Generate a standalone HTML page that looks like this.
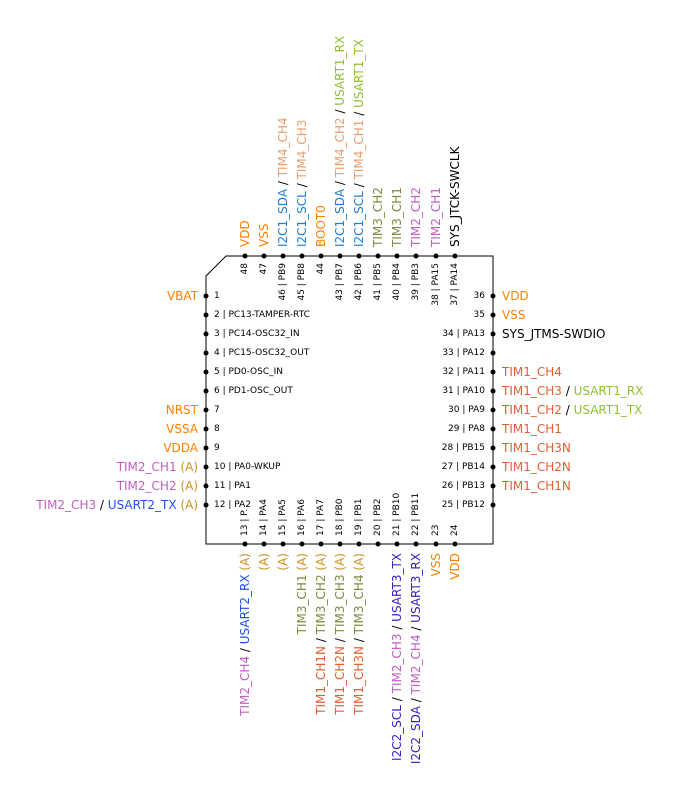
<!DOCTYPE html>
<html><head><meta charset="utf-8"><style>
html,body{margin:0;padding:0;background:#fff;}
svg{display:block;font-family:"DejaVu Sans","Liberation Sans",sans-serif;}
.o{font-size:12px;}
.i{font-size:9px;fill:#000;}
.O{fill:#ff8000}.T4{fill:#e8a070}.I1{fill:#2080d0}.U1{fill:#90c030}.T3{fill:#808a40}.T2{fill:#c060c0}.T1{fill:#e06030}.A{fill:#d09020}.U2{fill:#2050e0}.I2{fill:#4020c0}.K{fill:#000}
</style></head><body>
<svg width="700" height="800" viewBox="0 0 700 800" xmlns="http://www.w3.org/2000/svg">
<path d="M226 256 H493 V544 H206 V276 Z" fill="none" stroke="#000" stroke-width="1"/>
<g fill="#000">
<circle cx="206" cy="296" r="2.5"/><circle cx="206" cy="315" r="2.5"/><circle cx="206" cy="334" r="2.5"/><circle cx="206" cy="353" r="2.5"/><circle cx="206" cy="372" r="2.5"/><circle cx="206" cy="391" r="2.5"/><circle cx="206" cy="410" r="2.5"/><circle cx="206" cy="429" r="2.5"/><circle cx="206" cy="448" r="2.5"/><circle cx="206" cy="467" r="2.5"/><circle cx="206" cy="486" r="2.5"/><circle cx="206" cy="505" r="2.5"/>
<circle cx="493" cy="296" r="2.5"/><circle cx="493" cy="315" r="2.5"/><circle cx="493" cy="334" r="2.5"/><circle cx="493" cy="353" r="2.5"/><circle cx="493" cy="372" r="2.5"/><circle cx="493" cy="391" r="2.5"/><circle cx="493" cy="410" r="2.5"/><circle cx="493" cy="429" r="2.5"/><circle cx="493" cy="448" r="2.5"/><circle cx="493" cy="467" r="2.5"/><circle cx="493" cy="486" r="2.5"/><circle cx="493" cy="505" r="2.5"/>
<circle cx="245" cy="256" r="2.5"/><circle cx="264" cy="256" r="2.5"/><circle cx="283" cy="256" r="2.5"/><circle cx="302" cy="256" r="2.5"/><circle cx="321" cy="256" r="2.5"/><circle cx="340" cy="256" r="2.5"/><circle cx="359" cy="256" r="2.5"/><circle cx="378" cy="256" r="2.5"/><circle cx="397" cy="256" r="2.5"/><circle cx="416" cy="256" r="2.5"/><circle cx="436" cy="256" r="2.5"/><circle cx="455" cy="256" r="2.5"/>
<circle cx="245" cy="544" r="2.5"/><circle cx="264" cy="544" r="2.5"/><circle cx="283" cy="544" r="2.5"/><circle cx="302" cy="544" r="2.5"/><circle cx="321" cy="544" r="2.5"/><circle cx="340" cy="544" r="2.5"/><circle cx="359" cy="544" r="2.5"/><circle cx="378" cy="544" r="2.5"/><circle cx="397" cy="544" r="2.5"/><circle cx="416" cy="544" r="2.5"/><circle cx="436" cy="544" r="2.5"/><circle cx="455" cy="544" r="2.5"/>
</g>
<!-- left inner -->
<g class="i" dominant-baseline="central">
<text x="214" y="296">1</text><text x="214" y="315">2 | PC13-TAMPER-RTC</text><text x="214" y="334">3 | PC14-OSC32_IN</text><text x="214" y="353">4 | PC15-OSC32_OUT</text><text x="214" y="372">5 | PD0-OSC_IN</text><text x="214" y="391">6 | PD1-OSC_OUT</text><text x="214" y="410">7</text><text x="214" y="429">8</text><text x="214" y="448">9</text><text x="214" y="467">10 | PA0-WKUP</text><text x="214" y="486">11 | PA1</text><text x="214" y="505">12 | PA2</text>
</g>
<g class="i" dominant-baseline="central" text-anchor="end">
<text x="485" y="296">36</text><text x="485" y="315">35</text><text x="485" y="334">34 | PA13</text><text x="485" y="353">33 | PA12</text><text x="485" y="372">32 | PA11</text><text x="485" y="391">31 | PA10</text><text x="485" y="410">30 | PA9</text><text x="485" y="429">29 | PA8</text><text x="485" y="448">28 | PB15</text><text x="485" y="467">27 | PB14</text><text x="485" y="486">26 | PB13</text><text x="485" y="505">25 | PB12</text>
</g>
<!-- top inner: end anchor at y=263 -->
<g class="i" dominant-baseline="central" text-anchor="end">
<text transform="translate(245,263) rotate(-90)">48</text><text transform="translate(264,263) rotate(-90)">47</text><text transform="translate(283,263) rotate(-90)">46 | PB9</text><text transform="translate(302,263) rotate(-90)">45 | PB8</text><text transform="translate(321,263) rotate(-90)">44</text><text transform="translate(340,263) rotate(-90)">43 | PB7</text><text transform="translate(359,263) rotate(-90)">42 | PB6</text><text transform="translate(378,263) rotate(-90)">41 | PB5</text><text transform="translate(397,263) rotate(-90)">40 | PB4</text><text transform="translate(416,263) rotate(-90)">39 | PB3</text><text transform="translate(436,263) rotate(-90)">38 | PA15</text><text transform="translate(455,263) rotate(-90)">37 | PA14</text>
</g>
<!-- bottom inner: start anchor at y=536 -->
<g class="i" dominant-baseline="central">
<text transform="translate(245,536) rotate(-90)">13 | P.</text><text transform="translate(264,536) rotate(-90)">14 | PA4</text><text transform="translate(283,536) rotate(-90)">15 | PA5</text><text transform="translate(302,536) rotate(-90)">16 | PA6</text><text transform="translate(321,536) rotate(-90)">17 | PA7</text><text transform="translate(340,536) rotate(-90)">18 | PB0</text><text transform="translate(359,536) rotate(-90)">19 | PB1</text><text transform="translate(378,536) rotate(-90)">20 | PB2</text><text transform="translate(397,536) rotate(-90)">21 | PB10</text><text transform="translate(416,536) rotate(-90)">22 | PB11</text><text transform="translate(436,536) rotate(-90)">23</text><text transform="translate(455,536) rotate(-90)">24</text>
</g>
<!-- left outer -->
<g class="o" dominant-baseline="central" text-anchor="end">
<text x="198" y="296" class="O">VBAT</text>
<text x="198" y="410" class="O">NRST</text>
<text x="198" y="429" class="O">VSSA</text>
<text x="198" y="448" class="O">VDDA</text>
<text x="198" y="467"><tspan class="T2">TIM2_CH1</tspan> <tspan class="A">(A)</tspan></text>
<text x="198" y="486"><tspan class="T2">TIM2_CH2</tspan> <tspan class="A">(A)</tspan></text>
<text x="198" y="505"><tspan class="T2">TIM2_CH3</tspan><tspan class="K"> / </tspan><tspan class="U2">USART2_TX</tspan> <tspan class="A">(A)</tspan></text>
</g>
<!-- right outer -->
<g class="o" dominant-baseline="central">
<text x="502" y="296" class="O">VDD</text>
<text x="502" y="315" class="O">VSS</text>
<text x="502" y="334" class="K">SYS_JTMS-SWDIO</text>
<text x="502" y="372" class="T1">TIM1_CH4</text>
<text x="502" y="391"><tspan class="T1">TIM1_CH3</tspan><tspan class="K"> / </tspan><tspan class="U1">USART1_RX</tspan></text>
<text x="502" y="410"><tspan class="T1">TIM1_CH2</tspan><tspan class="K"> / </tspan><tspan class="U1">USART1_TX</tspan></text>
<text x="502" y="429" class="T1">TIM1_CH1</text>
<text x="502" y="448" class="T1">TIM1_CH3N</text>
<text x="502" y="467" class="T1">TIM1_CH2N</text>
<text x="502" y="486" class="T1">TIM1_CH1N</text>
</g>
<!-- top outer: start anchor at y=247 -->
<g class="o" dominant-baseline="central">
<text transform="translate(245,247) rotate(-90)" class="O">VDD</text>
<text transform="translate(264,247) rotate(-90)" class="O">VSS</text>
<text transform="translate(283,247) rotate(-90)"><tspan class="I1">I2C1_SDA</tspan><tspan class="K"> / </tspan><tspan class="T4">TIM4_CH4</tspan></text>
<text transform="translate(302,247) rotate(-90)"><tspan class="I1">I2C1_SCL</tspan><tspan class="K"> / </tspan><tspan class="T4">TIM4_CH3</tspan></text>
<text transform="translate(321,247) rotate(-90)" class="O">BOOT0</text>
<text transform="translate(340,247) rotate(-90)"><tspan class="I1">I2C1_SDA</tspan><tspan class="K"> / </tspan><tspan class="T4">TIM4_CH2</tspan><tspan class="K"> / </tspan><tspan class="U1">USART1_RX</tspan></text>
<text transform="translate(359,247) rotate(-90)"><tspan class="I1">I2C1_SCL</tspan><tspan class="K"> / </tspan><tspan class="T4">TIM4_CH1</tspan><tspan class="K"> / </tspan><tspan class="U1">USART1_TX</tspan></text>
<text transform="translate(378,247) rotate(-90)" class="T3">TIM3_CH2</text>
<text transform="translate(397,247) rotate(-90)" class="T3">TIM3_CH1</text>
<text transform="translate(416,247) rotate(-90)" class="T2">TIM2_CH2</text>
<text transform="translate(436,247) rotate(-90)" class="T2">TIM2_CH1</text>
<text transform="translate(455,247) rotate(-90)" class="K">SYS_JTCK-SWCLK</text>
</g>
<!-- bottom outer: end anchor at y=553 -->
<g class="o" dominant-baseline="central" text-anchor="end">
<text transform="translate(245,553) rotate(-90)"><tspan class="T2">TIM2_CH4</tspan><tspan class="K"> / </tspan><tspan class="U2">USART2_RX</tspan> <tspan class="A">(A)</tspan></text>
<text transform="translate(264,553) rotate(-90)" class="A">(A)</text>
<text transform="translate(283,553) rotate(-90)" class="A">(A)</text>
<text transform="translate(302,553) rotate(-90)"><tspan class="T3">TIM3_CH1</tspan> <tspan class="A">(A)</tspan></text>
<text transform="translate(321,553) rotate(-90)"><tspan class="T1">TIM1_CH1N</tspan><tspan class="K"> / </tspan><tspan class="T3">TIM3_CH2</tspan> <tspan class="A">(A)</tspan></text>
<text transform="translate(340,553) rotate(-90)"><tspan class="T1">TIM1_CH2N</tspan><tspan class="K"> / </tspan><tspan class="T3">TIM3_CH3</tspan> <tspan class="A">(A)</tspan></text>
<text transform="translate(359,553) rotate(-90)"><tspan class="T1">TIM1_CH3N</tspan><tspan class="K"> / </tspan><tspan class="T3">TIM3_CH4</tspan> <tspan class="A">(A)</tspan></text>
<text transform="translate(397,553) rotate(-90)"><tspan class="I2">I2C2_SCL</tspan><tspan class="K"> / </tspan><tspan class="T2">TIM2_CH3</tspan><tspan class="K"> / </tspan><tspan class="I2">USART3_TX</tspan></text>
<text transform="translate(416,553) rotate(-90)"><tspan class="I2">I2C2_SDA</tspan><tspan class="K"> / </tspan><tspan class="T2">TIM2_CH4</tspan><tspan class="K"> / </tspan><tspan class="I2">USART3_RX</tspan></text>
<text transform="translate(436,553) rotate(-90)" class="O">VSS</text>
<text transform="translate(455,553) rotate(-90)" class="O">VDD</text>
</g>
</svg>
</body></html>
